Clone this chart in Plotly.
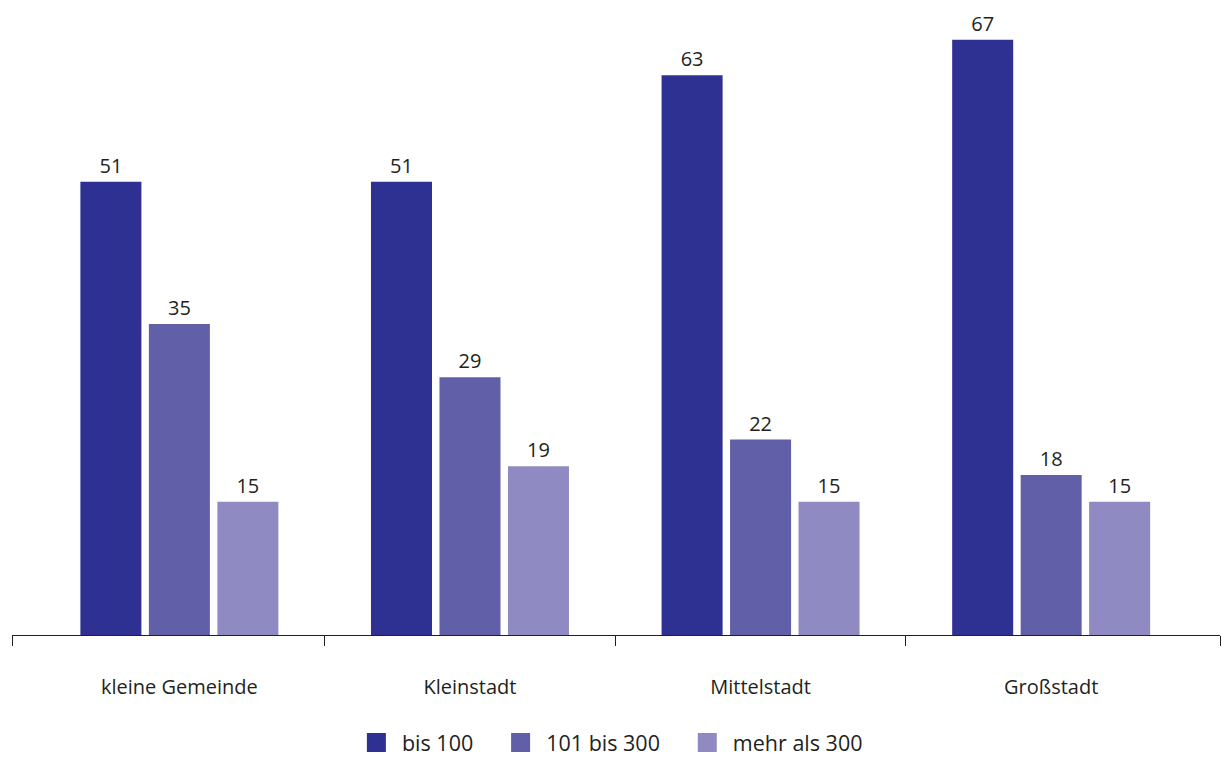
import plotly.graph_objects as go

categories = ["kleine Gemeinde", "Kleinstadt", "Mittelstadt", "Großstadt"]
series_names = ["bis 100", "101 bis 300", "mehr als 300"]
bis_100 = [51, 51, 63, 67]
bis_300 = [35, 29, 22, 18]
mehr_300 = [15, 19, 15, 15]
colors = ["#2e3192", "#625fa9", "#8f8bc2"]

FONT = "Open Sans"
TXT = "#231f20"
NB = "\u00a0"

fig = go.Figure()
n = len(series_names)
for i, (name, vals, col) in enumerate(zip(series_names, [bis_100, bis_300, mehr_300], colors)):
    fig.add_trace(go.Bar(
        x=categories, y=vals, name=name, marker=dict(color=col, line=dict(width=0)),
        text=[str(v) for v in vals], textposition="outside", cliponaxis=False,
        textfont=dict(family=FONT, size=20, color=TXT), showlegend=False,
    ))
    trail = NB * 4 if i < n - 1 else ""
    fig.add_trace(go.Scatter(
        x=[None], y=[None], mode="markers", name=NB + name + trail,
        marker=dict(symbol="square", size=16, color=col, line=dict(width=3, color=col)),
        showlegend=True,
    ))

# helper trace for the tick axis
fig.add_trace(go.Scatter(x=[None], y=[None], xaxis="x2", showlegend=False, hoverinfo="skip"))

xr = [-0.576, 3.581]
fig.update_layout(
    width=1222, height=758,
    margin=dict(l=11.5, r=2, t=0, b=122.5, autoexpand=False),
    paper_bgcolor="white", plot_bgcolor="white",
    barmode="group", bargap=0.293, bargroupgap=0.109,
    font=dict(family=FONT, size=20, color=TXT),
    xaxis=dict(type="category", range=xr, showline=False, ticks="", showgrid=False,
               zeroline=False, tickfont=dict(family=FONT, size=20, color=TXT),
               ticklabelstandoff=38, automargin=False),
    xaxis2=dict(type="linear", overlaying="x", anchor="y", side="bottom", range=xr,
                tickvals=[xr[0], 0.5, 1.5, 2.5, xr[1]], showticklabels=False,
                ticks="outside", ticklen=10, tickwidth=1.3, tickcolor=TXT,
                showline=True, linecolor=TXT, linewidth=1.3, showgrid=False,
                zeroline=False, automargin=False),
    yaxis=dict(range=[0, 71.47], visible=False, showgrid=False, zeroline=False,
               automargin=False),
    legend=dict(orientation="h", x=0.497, xanchor="center", y=-0.1695, yanchor="middle",
                font=dict(family=FONT, size=21.5, color=TXT), itemwidth=30,
                traceorder="normal"),
    showlegend=True,
)

fig.write_html("out.html", config={"displayModeBar": False},
               post_script="document.body.style.margin='0';")
